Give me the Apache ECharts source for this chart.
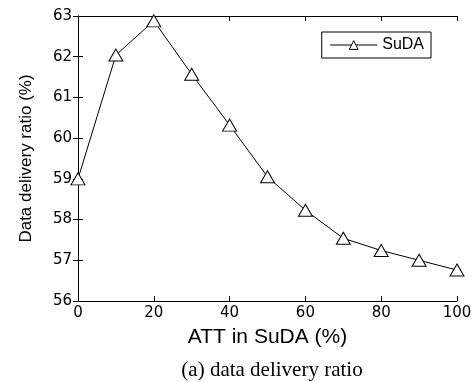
<!DOCTYPE html>
<html><head><meta charset="utf-8">
<script src="https://cdn.jsdelivr.net/npm/echarts@6/dist/echarts.min.js"></script>
<style>html,body{margin:0;padding:0;background:#fff}#c{width:476px;height:382px}</style>
</head><body><div id="c"></div>
<script>
const xValues = [0, 10, 20, 30, 40, 50, 60, 70, 80, 90, 100];
const sudaValues = [59.0, 62.04, 62.88, 61.57, 60.32, 59.05, 58.23, 57.54, 57.24, 57.0, 56.76];
const seriesName = 'SuDA';
const xTitle = 'ATT in SuDA (%)';
const yTitle = 'Data delivery ratio (%)';
const caption = '(a) data delivery ratio';

const chart = echarts.init(document.getElementById('c'));
const font = 'Liberation Sans, Arial, sans-serif';
const tickFont = 'DejaVu Sans, sans-serif';
const axisCommon = {
  axisLine: {show: true, lineStyle: {color: '#000', width: 1}},
  axisTick: {show: true, inside: true, length: 5, lineStyle: {color: '#000'}},
  splitLine: {show: false}
};
chart.setOption({
  animation: false,
  grid: {left: 78, right: 19, top: 16, bottom: 81, containLabel: false},
  title: {text: caption, left: 267, top: 355, textAlign: 'center',
    textStyle: {fontFamily: 'Liberation Serif, Times New Roman, serif', fontSize: 21, fontWeight: 'normal', color: '#000'}},
  legend: {
    data: [seriesName], right: 45, top: 32, orient: 'vertical',
    backgroundColor: '#fff', borderColor: '#000', borderWidth: 1, borderRadius: 0,
    padding: [5, 7, 5, 8], itemWidth: 47, itemHeight: 11, itemGap: 5,
    lineStyle: {width: 1, color: '#000'},
    itemStyle: {color: '#fff', borderColor: '#000', borderWidth: 1},
    textStyle: {fontFamily: font, fontSize: 16, color: '#000'}
  },
  xAxis: [
    Object.assign({type: 'value', min: 0, max: 100, interval: 20, position: 'bottom',
      name: xTitle, nameLocation: 'middle', nameGap: 26,
      nameTextStyle: {fontFamily: font, fontSize: 21, color: '#000'},
      axisLabel: {fontFamily: tickFont, fontSize: 15, color: '#000', margin: 5}}, axisCommon),
    Object.assign({type: 'value', min: 0, max: 100, interval: 20, position: 'top',
      axisLabel: {show: false}}, axisCommon)
  ],
  yAxis: [
    Object.assign({type: 'value', min: 56, max: 63, interval: 1, position: 'left',
      name: yTitle, nameLocation: 'middle', nameGap: 43,
      nameTextStyle: {fontFamily: font, fontSize: 17, color: '#000'},
      axisLabel: {fontFamily: tickFont, fontSize: 15, color: '#000', margin: 6}}, axisCommon),
    Object.assign({type: 'value', min: 56, max: 63, interval: 1, position: 'right',
      axisLabel: {show: false}}, axisCommon)
  ],
  series: [{
    name: seriesName, type: 'line',
    data: xValues.map((x, i) => [x, sudaValues[i]]),
    symbol: 'triangle', symbolSize: [14, 12], showAllSymbol: true,
    lineStyle: {color: '#000', width: 1},
    itemStyle: {color: '#fff', borderColor: '#000', borderWidth: 1}
  }]
});
</script></body></html>
